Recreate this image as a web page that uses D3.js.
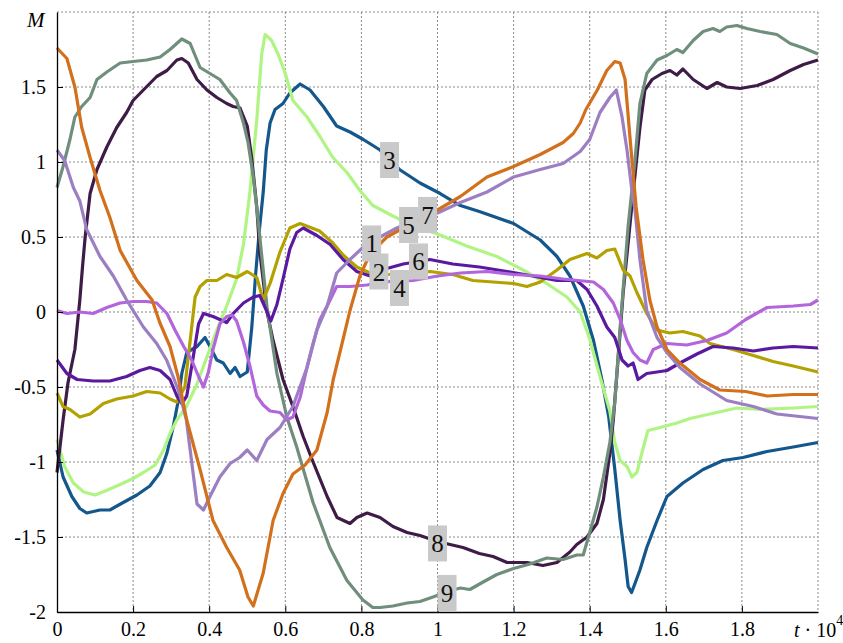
<!DOCTYPE html>
<html>
<head>
<meta charset="utf-8">
<script src="https://cdn.jsdelivr.net/npm/d3@7"></script>
<style>
  body { margin: 0; background: #fff; }
  svg { display: block; }
</style>
</head>
<body>
<div class="displayArea"></div>
<script>
const width = 843, height = 643;
const plotLeft = 57, plotRight = 818, plotTop = 12, plotBottom = 612;
const serif = "'Liberation Serif', 'Times New Roman', Tinos, 'DejaVu Serif', serif";

// tick values / labels
const xTicks = [0, 0.2, 0.4, 0.6, 0.8, 1, 1.2, 1.4, 1.6, 1.8];
const yTicks = [-2, -1.5, -1, -0.5, 0, 0.5, 1, 1.5];
const gridX = [0.2, 0.4, 0.6, 0.8, 1, 1.2, 1.4, 1.6, 1.8, 2];
const gridY = [-1.5, -1, -0.5, 0, 0.5, 1, 1.5, 2];

// series [t, M]
const s1 = [[0,1.08],[0.02,1.01],[0.043,0.83],[0.06,0.74],[0.078,0.55],[0.113,0.37],[0.148,0.24],[0.183,0.08],[0.227,-0.1],[0.262,-0.21],[0.288,-0.32],[0.305,-0.43],[0.323,-0.55],[0.34,-0.72],[0.35,-0.92],[0.368,-1.28],[0.385,-1.32],[0.402,-1.23],[0.428,-1.1],[0.455,-1.01],[0.48,-0.97],[0.5,-0.92],[0.525,-0.99],[0.552,-0.85],[0.586,-0.77],[0.62,-0.63],[0.657,-0.37],[0.683,-0.12],[0.71,0.04],[0.735,0.26],[0.77,0.35],[0.804,0.43],[0.849,0.5],[0.893,0.56],[0.95,0.62],[1.0,0.66],[1.06,0.73],[1.13,0.8],[1.2,0.9],[1.27,0.95],[1.33,0.99],[1.375,1.07],[1.4,1.15],[1.427,1.33],[1.453,1.43],[1.47,1.48],[1.485,1.3],[1.498,1.08],[1.51,0.83],[1.519,0.68],[1.532,0.35],[1.55,0.01],[1.577,-0.17],[1.603,-0.27],[1.637,-0.37],[1.69,-0.48],[1.76,-0.59],[1.83,-0.63],[1.892,-0.68],[2.0,-0.71]];
const s2 = [[0,-0.54],[0.016,-0.63],[0.034,-0.65],[0.06,-0.7],[0.087,-0.68],[0.122,-0.61],[0.157,-0.58],[0.2,-0.56],[0.236,-0.53],[0.271,-0.54],[0.297,-0.58],[0.315,-0.6],[0.336,-0.5],[0.35,-0.19],[0.363,0.1],[0.376,0.17],[0.394,0.21],[0.42,0.21],[0.446,0.25],[0.472,0.23],[0.5,0.27],[0.525,0.23],[0.542,0.08],[0.56,0.19],[0.586,0.4],[0.612,0.56],[0.639,0.59],[0.69,0.54],[0.725,0.46],[0.752,0.38],[0.788,0.3],[0.823,0.26],[0.87,0.25],[0.93,0.26],[0.98,0.27],[1.04,0.25],[1.093,0.21],[1.146,0.2],[1.2,0.19],[1.235,0.17],[1.27,0.2],[1.314,0.28],[1.348,0.35],[1.393,0.39],[1.419,0.36],[1.445,0.41],[1.466,0.42],[1.488,0.28],[1.506,0.24],[1.524,0.13],[1.55,-0.01],[1.577,-0.12],[1.61,-0.14],[1.645,-0.13],[1.69,-0.16],[1.716,-0.21],[1.777,-0.25],[1.83,-0.29],[1.882,-0.33],[1.935,-0.36],[2.0,-0.4]];
const s3 = [[0,-0.92],[0.016,-1.1],[0.039,-1.23],[0.06,-1.31],[0.078,-1.34],[0.113,-1.32],[0.139,-1.32],[0.174,-1.27],[0.21,-1.22],[0.244,-1.16],[0.271,-1.07],[0.289,-0.94],[0.305,-0.77],[0.318,-0.6],[0.328,-0.41],[0.341,-0.27],[0.368,-0.23],[0.389,-0.17],[0.402,-0.23],[0.42,-0.32],[0.437,-0.34],[0.455,-0.41],[0.468,-0.37],[0.481,-0.43],[0.5,-0.4],[0.512,-0.1],[0.522,0.25],[0.532,0.55],[0.542,0.8],[0.55,1.08],[0.56,1.26],[0.573,1.35],[0.594,1.39],[0.612,1.46],[0.639,1.52],[0.665,1.48],[0.7,1.37],[0.735,1.24],[0.77,1.2],[0.805,1.15],[0.849,1.08],[0.9,0.95],[0.954,0.86],[1.007,0.79],[1.06,0.71],[1.11,0.67],[1.2,0.59],[1.27,0.48],[1.314,0.37],[1.348,0.24],[1.383,0.04],[1.41,-0.19],[1.432,-0.45],[1.45,-0.7],[1.466,-1.05],[1.48,-1.39],[1.493,-1.65],[1.501,-1.83],[1.51,-1.87],[1.519,-1.81],[1.532,-1.72],[1.55,-1.57],[1.577,-1.39],[1.603,-1.23],[1.645,-1.14],[1.698,-1.05],[1.75,-0.99],[1.803,-0.97],[1.866,-0.93],[1.935,-0.9],[2.0,-0.87]];
const s4 = [[0,0.01],[0.026,-0.01],[0.06,0.0],[0.095,-0.01],[0.131,0.03],[0.166,0.06],[0.2,0.07],[0.236,0.07],[0.262,0.06],[0.289,-0.01],[0.31,-0.12],[0.333,-0.23],[0.354,-0.32],[0.372,-0.43],[0.385,-0.5],[0.398,-0.4],[0.41,-0.25],[0.428,-0.08],[0.446,-0.03],[0.46,-0.02],[0.472,-0.06],[0.49,-0.2],[0.507,-0.36],[0.525,-0.56],[0.542,-0.62],[0.56,-0.66],[0.586,-0.67],[0.604,-0.72],[0.62,-0.7],[0.639,-0.57],[0.657,-0.37],[0.673,-0.21],[0.691,-0.05],[0.71,0.04],[0.735,0.17],[0.77,0.17],[0.815,0.18],[0.849,0.2],[0.936,0.21],[1.0,0.24],[1.06,0.26],[1.13,0.27],[1.2,0.25],[1.27,0.24],[1.33,0.22],[1.41,0.2],[1.436,0.15],[1.462,0.06],[1.48,-0.05],[1.498,-0.19],[1.514,-0.27],[1.532,-0.32],[1.55,-0.34],[1.567,-0.25],[1.603,-0.21],[1.655,-0.22],[1.708,-0.19],[1.76,-0.14],[1.81,-0.05],[1.866,0.03],[1.935,0.04],[1.98,0.05],[2.0,0.08]];
const s5 = [[0,-0.85],[0.02,-1.03],[0.043,-1.14],[0.07,-1.2],[0.1,-1.22],[0.13,-1.19],[0.166,-1.15],[0.2,-1.11],[0.227,-1.07],[0.258,-1.02],[0.28,-0.92],[0.297,-0.81],[0.315,-0.72],[0.34,-0.63],[0.368,-0.48],[0.394,-0.3],[0.42,-0.12],[0.446,0.04],[0.472,0.22],[0.49,0.45],[0.507,0.8],[0.525,1.28],[0.538,1.72],[0.547,1.85],[0.564,1.81],[0.581,1.72],[0.6,1.59],[0.62,1.41],[0.657,1.3],[0.691,1.17],[0.725,1.03],[0.762,0.93],[0.796,0.81],[0.83,0.71],[0.883,0.64],[0.93,0.58],[1.0,0.52],[1.077,0.44],[1.156,0.37],[1.225,0.28],[1.287,0.19],[1.34,0.1],[1.375,0.0],[1.4,-0.18],[1.427,-0.43],[1.453,-0.66],[1.466,-0.87],[1.48,-0.99],[1.498,-1.03],[1.511,-1.1],[1.524,-1.07],[1.537,-0.94],[1.553,-0.79],[1.585,-0.77],[1.629,-0.74],[1.664,-0.71],[1.716,-0.68],[1.787,-0.64],[1.848,-0.65],[1.935,-0.64],[2.0,-0.63]];
const s6 = [[0,-0.32],[0.026,-0.41],[0.053,-0.45],[0.095,-0.46],[0.139,-0.46],[0.183,-0.43],[0.218,-0.39],[0.244,-0.37],[0.271,-0.39],[0.297,-0.45],[0.315,-0.56],[0.328,-0.61],[0.341,-0.56],[0.358,-0.3],[0.372,-0.08],[0.385,-0.01],[0.41,-0.03],[0.428,-0.05],[0.446,-0.07],[0.463,-0.01],[0.49,0.06],[0.516,0.1],[0.533,0.11],[0.547,0.03],[0.562,-0.06],[0.578,0.05],[0.594,0.22],[0.612,0.42],[0.63,0.53],[0.647,0.56],[0.683,0.51],[0.718,0.45],[0.752,0.35],[0.788,0.27],[0.823,0.24],[0.867,0.29],[0.91,0.32],[0.98,0.35],[1.04,0.32],[1.11,0.3],[1.183,0.27],[1.25,0.24],[1.314,0.21],[1.366,0.21],[1.393,0.15],[1.419,0.04],[1.445,-0.1],[1.466,-0.17],[1.485,-0.32],[1.501,-0.36],[1.514,-0.34],[1.527,-0.45],[1.55,-0.41],[1.577,-0.4],[1.603,-0.39],[1.637,-0.34],[1.682,-0.28],[1.724,-0.23],[1.777,-0.24],[1.83,-0.26],[1.882,-0.24],[1.935,-0.23],[2.0,-0.24]];
const s7 = [[0,1.76],[0.026,1.69],[0.047,1.5],[0.065,1.23],[0.087,1.03],[0.113,0.81],[0.139,0.63],[0.166,0.41],[0.21,0.21],[0.25,0.08],[0.27,-0.07],[0.297,-0.23],[0.318,-0.43],[0.341,-0.72],[0.376,-1.05],[0.41,-1.39],[0.446,-1.57],[0.48,-1.72],[0.502,-1.9],[0.516,-1.96],[0.542,-1.74],[0.568,-1.39],[0.594,-1.21],[0.62,-1.08],[0.652,-1.02],[0.683,-0.92],[0.71,-0.67],[0.726,-0.45],[0.752,-0.18],[0.77,0.01],[0.796,0.24],[0.823,0.39],[0.867,0.5],[0.91,0.56],[0.946,0.6],[1.0,0.68],[1.06,0.77],[1.13,0.9],[1.2,0.97],[1.27,1.05],[1.33,1.13],[1.357,1.19],[1.375,1.26],[1.39,1.35],[1.42,1.48],[1.445,1.61],[1.466,1.67],[1.48,1.66],[1.493,1.55],[1.506,1.16],[1.522,0.7],[1.54,0.35],[1.558,0.08],[1.577,-0.1],[1.603,-0.25],[1.637,-0.34],[1.69,-0.45],[1.742,-0.52],[1.81,-0.53],[1.866,-0.56],[1.935,-0.55],[2.0,-0.55]];
const s8 = [[0,-1.07],[0.016,-0.72],[0.029,-0.47],[0.047,-0.25],[0.06,0.08],[0.067,0.3],[0.074,0.5],[0.087,0.79],[0.105,0.95],[0.131,1.1],[0.157,1.23],[0.183,1.33],[0.2,1.41],[0.227,1.48],[0.262,1.57],[0.289,1.61],[0.315,1.68],[0.328,1.69],[0.345,1.66],[0.368,1.55],[0.394,1.48],[0.42,1.43],[0.446,1.39],[0.463,1.37],[0.481,1.36],[0.5,1.24],[0.512,1.02],[0.525,0.7],[0.533,0.4],[0.552,0.0],[0.568,-0.19],[0.594,-0.45],[0.62,-0.63],[0.647,-0.83],[0.673,-1.0],[0.71,-1.23],[0.736,-1.37],[0.77,-1.41],[0.788,-1.37],[0.815,-1.34],[0.849,-1.37],[0.883,-1.43],[0.92,-1.47],[0.954,-1.49],[1.0,-1.53],[1.033,-1.55],[1.067,-1.57],[1.11,-1.61],[1.146,-1.63],[1.183,-1.67],[1.235,-1.67],[1.277,-1.69],[1.314,-1.67],[1.348,-1.6],[1.366,-1.55],[1.393,-1.5],[1.419,-1.41],[1.436,-1.25],[1.453,-0.94],[1.462,-0.72],[1.475,-0.3],[1.488,0.13],[1.514,0.79],[1.532,1.23],[1.545,1.48],[1.564,1.55],[1.59,1.59],[1.611,1.61],[1.629,1.58],[1.645,1.62],[1.672,1.55],[1.708,1.49],[1.735,1.53],[1.76,1.5],[1.795,1.49],[1.84,1.51],[1.882,1.55],[1.927,1.61],[1.962,1.65],[2.0,1.68]];
const s9 = [[0,0.83],[0.016,0.97],[0.034,1.15],[0.047,1.3],[0.065,1.37],[0.087,1.43],[0.105,1.55],[0.131,1.6],[0.166,1.66],[0.2,1.67],[0.236,1.68],[0.271,1.7],[0.297,1.75],[0.328,1.82],[0.35,1.79],[0.376,1.63],[0.402,1.59],[0.428,1.55],[0.455,1.46],[0.472,1.41],[0.49,1.26],[0.502,1.13],[0.516,0.9],[0.529,0.6],[0.552,0.03],[0.578,-0.41],[0.604,-0.7],[0.63,-0.9],[0.673,-1.27],[0.717,-1.57],[0.762,-1.79],[0.804,-1.92],[0.83,-1.97],[0.849,-1.97],[0.883,-1.96],[0.92,-1.94],[0.954,-1.93],[0.988,-1.9],[1.03,-1.86],[1.06,-1.84],[1.085,-1.85],[1.12,-1.8],[1.156,-1.75],[1.2,-1.71],[1.243,-1.68],[1.287,-1.64],[1.33,-1.65],[1.366,-1.62],[1.383,-1.62],[1.4,-1.47],[1.419,-1.3],[1.436,-1.1],[1.453,-0.87],[1.466,-0.6],[1.48,-0.1],[1.501,0.57],[1.519,1.01],[1.532,1.39],[1.55,1.59],[1.577,1.68],[1.603,1.71],[1.629,1.75],[1.645,1.73],[1.672,1.81],[1.698,1.87],[1.724,1.89],[1.742,1.87],[1.76,1.9],[1.787,1.91],[1.813,1.89],[1.848,1.87],[1.892,1.85],[1.927,1.79],[1.962,1.76],[2.0,1.72]];

const series = [s3, s5, s8, s9, s2, s6, s4, s1, s7];
const colors = ["#13578c", "#b0f584", "#3f1c47", "#6f8f7c", "#b3a100", "#5a1aa0", "#b366dc", "#9b7fc2", "#d2701c"];

// curve number labels
const labelNames = ["1", "2", "3", "4", "5", "6", "7", "8", "9"];
const labelT = [0.827, 0.846, 0.874, 0.9, 0.924, 0.95, 0.974, 1.0, 1.025];
const labelM = [0.457, 0.27, 1.013, 0.16, 0.58, 0.337, 0.647, -1.543, -1.873];

var xScale = d3.scaleLinear().domain([0, 2]).range([plotLeft, plotRight]);
var yScale = d3.scaleLinear().domain([-2, 2]).range([plotBottom, plotTop]);

var svg = d3.select(".displayArea")
    .append("svg")
    .attr("width", width)
    .attr("height", height)
    .style("font-family", serif);

// dotted grid
svg.append("g").selectAll("line")
    .data(gridX).enter().append("line")
    .attr("x1", d => xScale(d)).attr("x2", d => xScale(d))
    .attr("y1", plotTop).attr("y2", plotBottom)
    .attr("stroke", "#8a8a8a").attr("stroke-width", 1)
    .attr("stroke-dasharray", "2,2");

svg.append("g").selectAll("line")
    .data(gridY).enter().append("line")
    .attr("x1", plotLeft).attr("x2", plotRight)
    .attr("y1", d => yScale(d)).attr("y2", d => yScale(d))
    .attr("stroke", "#8a8a8a").attr("stroke-width", 1)
    .attr("stroke-dasharray", "2,2");

// curves
var line = d3.line()
    .x(d => xScale(d[0]))
    .y(d => yScale(d[1]));

svg.append("g").selectAll("path")
    .data(series).enter().append("path")
    .attr("d", line)
    .attr("fill", "none")
    .attr("stroke", (d, i) => colors[i])
    .attr("stroke-width", 3.2)
    .attr("stroke-linejoin", "round");

// axes, ticks pointing inside
var xAxis = d3.axisBottom(xScale)
    .tickValues(xTicks)
    .tickFormat(d3.format("~g"))
    .tickSizeInner(-6)
    .tickSizeOuter(0)
    .tickPadding(10);

var yAxis = d3.axisLeft(yScale)
    .tickValues(yTicks)
    .tickFormat(d => d < 0 ? "-" + Math.abs(d) : d3.format("~g")(d))
    .tickSizeInner(-6)
    .tickSizeOuter(0)
    .tickPadding(11);

var gx = svg.append("g")
    .attr("transform", `translate(0,${plotBottom})`)
    .call(xAxis);

var gy = svg.append("g")
    .attr("transform", `translate(${plotLeft},0)`)
    .call(yAxis);

[gx, gy].forEach(g => {
    g.attr("font-family", serif).attr("font-size", 20);
    g.select(".domain").attr("stroke", "#000").attr("stroke-width", 1.3);
    g.selectAll(".tick line").attr("stroke", "#000");
});

// curve labels
var lab = svg.append("g").selectAll("g")
    .data(labelNames).enter().append("g")
    .attr("transform", (d, i) => `translate(${xScale(labelT[i])},${yScale(labelM[i])})`);

lab.append("rect")
    .attr("x", -9.5).attr("y", -18)
    .attr("width", 19).attr("height", 36)
    .attr("fill", "#c9c9c9");

lab.append("text")
    .attr("text-anchor", "middle")
    .attr("y", 9)
    .attr("font-family", serif)
    .attr("font-size", 25)
    .attr("fill", "#111")
    .text(d => d);

// axis titles
svg.append("text")
    .attr("x", 27).attr("y", 27)
    .attr("font-family", serif)
    .attr("font-size", 21)
    .attr("font-style", "italic")
    .text("M");

var tt = svg.append("text")
    .attr("x", 794).attr("y", 637)
    .attr("font-family", serif)
    .attr("font-size", 20);
tt.append("tspan").attr("font-style", "italic").text("t");
tt.append("tspan").text(" \u00b7 10");
tt.append("tspan").attr("font-size", 14).attr("dy", -12).text("4");
</script>
</body>
</html>
